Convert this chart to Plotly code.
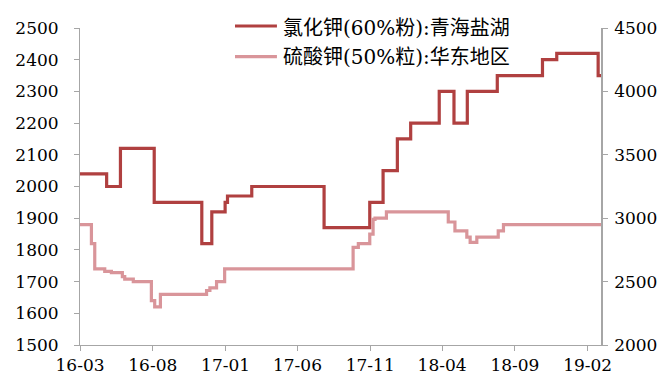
import plotly.graph_objects as go

# 氯化钾(60%粉):青海盐湖 — left axis (step changes)
kcl_dates = ["2016-03-01", "2016-04-26", "2016-05-25", "2016-08-04", "2016-11-12",
             "2016-12-03", "2016-12-31", "2017-01-05", "2017-02-25", "2017-07-27",
             "2017-10-31", "2017-11-28", "2017-12-28", "2018-01-25", "2018-03-26",
             "2018-04-26", "2018-05-24", "2018-07-26", "2018-10-29", "2018-11-28",
             "2019-02-23", "2019-03-01"]
kcl_values = [2040, 2000, 2120, 1950, 1820,
              1920, 1950, 1970, 2000, 1870,
              1950, 2050, 2150, 2200, 2300,
              2200, 2300, 2350, 2400, 2420,
              2350, 2350]

# 硫酸钾(50%粒):华东地区 — right axis
k2so4_dates = ["2016-03-01", "2016-03-25", "2016-04-01", "2016-04-22", "2016-05-06",
               "2016-05-29", "2016-06-03", "2016-06-21", "2016-07-29", "2016-08-05",
               "2016-08-17", "2016-11-22", "2016-11-29", "2016-12-13", "2016-12-30",
               "2017-09-26", "2017-10-07", "2017-10-31", "2017-11-07", "2017-11-11",
               "2017-12-05", "2018-04-14", "2018-04-28", "2018-05-23", "2018-05-30",
               "2018-06-13", "2018-07-28", "2018-08-08", "2019-03-01"]
k2so4_values = [2950, 2800, 2600, 2580, 2570,
                2540, 2520, 2500, 2350, 2300,
                2400, 2430, 2450, 2500, 2600,
                2770, 2800, 2875, 2990, 3000,
                3050, 2970, 2900, 2850, 2810,
                2850, 2900, 2950, 2950]

tick_dates = ["2016-03-01", "2016-08-01", "2017-01-01", "2017-06-01",
              "2017-11-01", "2018-04-01", "2018-09-01", "2019-02-01"]
tick_labels = ["16-03", "16-08", "17-01", "17-06", "17-11", "18-04", "18-09", "19-02"]

series_names = ["氯化钾(60%粉):青海盐湖", "硫酸钾(50%粒):华东地区"]
series_colors = ["#b04040", "#d9959a"]

FONT = "DejaVu Serif, Noto Sans CJK SC, serif"
AX = "#a6a6a6"
FS = 17
LFS = 20

fig = go.Figure()
fig.add_trace(go.Scatter(x=kcl_dates, y=kcl_values, mode="lines", line_shape="hv",
                         name=series_names[0],
                         line=dict(color=series_colors[0], width=3.2), yaxis="y"))
fig.add_trace(go.Scatter(x=k2so4_dates, y=k2so4_values, mode="lines", line_shape="hv",
                         name=series_names[1],
                         line=dict(color=series_colors[1], width=3.2), yaxis="y2"))

# legend drawn in paper coordinates (line sample + text)
leg_line_y = [1.0063, 0.910]
leg_text_y = [1.0, 0.9085]
for name, col, ly, ty in zip(series_names, series_colors, leg_line_y, leg_text_y):
    fig.add_shape(type="line", xref="paper", yref="paper", x0=0.2975, x1=0.378,
                  y0=ly, y1=ly, line=dict(color=col, width=3.2))
    fig.add_annotation(xref="paper", yref="paper", x=0.3858, y=ty, text=name,
                       showarrow=False, xanchor="left", yanchor="middle",
                       font=dict(family=FONT, size=LFS, color="#000000"))

fig.update_layout(
    width=665, height=383,
    margin=dict(l=72, r=72, t=20, b=46, autoexpand=False),
    paper_bgcolor="white", plot_bgcolor="white",
    font=dict(family=FONT, size=FS, color="#000000"),
    showlegend=False,
    xaxis=dict(type="date", range=["2016-03-01", "2019-03-01"], automargin=False,
               tickmode="array", tickvals=tick_dates, ticktext=tick_labels,
               showgrid=False, zeroline=False, showline=True, linecolor=AX, linewidth=1,
               ticks="outside", ticklen=5, tickcolor=AX,
               tickfont=dict(family=FONT, size=FS, color="#000000")),
    yaxis=dict(range=[1500, 2500], dtick=100, showgrid=False, zeroline=False, automargin=False,
               showline=True, linecolor=AX, linewidth=1,
               ticks="outside", ticklen=5, tickcolor=AX, ticklabelstandoff=12,
               tickfont=dict(family=FONT, size=FS, color="#000000")),
    yaxis2=dict(range=[2000, 4500], dtick=500, overlaying="y", side="right", automargin=False,
                showgrid=False, zeroline=False, showline=True, linecolor=AX, linewidth=1.5,
                ticks="outside", ticklen=5, tickcolor=AX, ticklabelstandoff=3,
                tickfont=dict(family=FONT, size=FS, color="#000000")),
)

fig.write_html("out.html")
